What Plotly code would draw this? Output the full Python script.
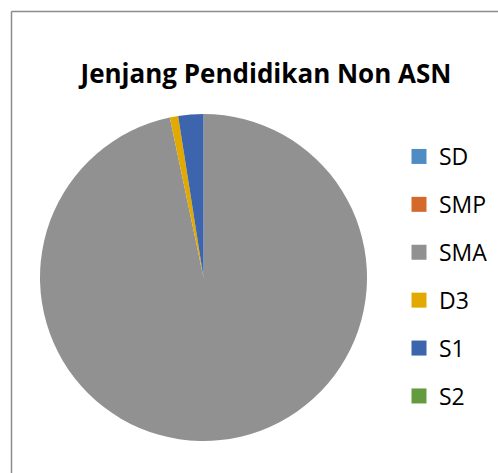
import plotly.graph_objects as go

categories = ["SD", "SMP", "SMA", "D3", "S1", "S2"]
values = [0, 0, 117, 1, 3, 0]
colors = ["#4F8CC4", "#D4692A", "#919191", "#E2AA00", "#3D65AE", "#659B3F"]

W, H = 498, 473

fig = go.Figure()
fig.add_trace(go.Pie(
    labels=categories, values=values, sort=False, direction="clockwise",
    rotation=0, marker=dict(colors=colors, line=dict(width=0)),
    textinfo="none", hoverinfo="label+value+percent", showlegend=False,
    domain=dict(x=[40 / W, 367 / W], y=[1 - 441 / H, 1 - 114 / H]),
))
for i, (c, col) in enumerate(zip(categories, colors)):
    fig.add_trace(go.Scatter(
        x=[None], y=[None], mode="markers", name=c, legendgroup=f"g{i}",
        marker=dict(symbol="square", size=15, color=col),
    ))

fig.update_layout(
    width=W, height=H,
    margin=dict(l=0, r=0, t=0, b=0),
    paper_bgcolor="white", plot_bgcolor="white",
    xaxis=dict(visible=False), yaxis=dict(visible=False),
    title=dict(text="<b>Jenjang Pendidikan Non ASN</b>", x=266 / W, xanchor="center",
               y=1 - 74 / H, yanchor="middle", yref="container",
               font=dict(family="Open Sans", size=26, color="#000000")),
    legend=dict(x=399 / W, xanchor="left", y=1 - 135 / H, yanchor="top",
                font=dict(family="Open Sans", size=23, color="#000000"),
                tracegroupgap=15, itemwidth=30, bgcolor="rgba(0,0,0,0)"),
    shapes=[
        dict(type="line", xref="paper", yref="paper", x0=11.5 / W, x1=1.02,
             y0=1 - 11.5 / H, y1=1 - 11.5 / H, line=dict(color="#8C8C8C", width=1.5)),
        dict(type="line", xref="paper", yref="paper", x0=11.5 / W, x1=11.5 / W,
             y0=1 - 11.5 / H, y1=-0.02, line=dict(color="#8C8C8C", width=1.5)),
    ],
)

fig.write_html("out.html", config={"displayModeBar": False},
               post_script="document.body.style.margin='0';")
